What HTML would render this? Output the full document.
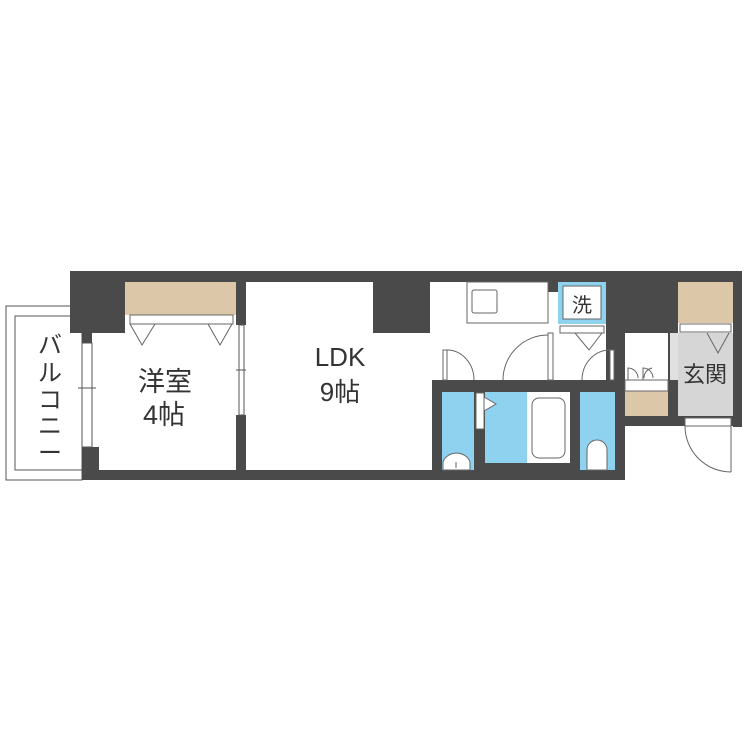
<!DOCTYPE html>
<html><head><meta charset="utf-8"><style>
html,body{margin:0;padding:0;background:#fff;}
svg{display:block}
text{font-family:"Liberation Sans","Noto Sans CJK JP",sans-serif;fill:#333;}
</style></head><body>
<svg width="750" height="750" viewBox="0 0 750 750" xmlns="http://www.w3.org/2000/svg">
<rect width="750" height="750" fill="#fff"/>
<rect x="6" y="306" width="76" height="174" fill="#fff" stroke="#555" stroke-width="1"/>
<rect x="15" y="316" width="67" height="154" fill="#fff" stroke="#555" stroke-width="1"/>
<g fill="#4a4a4a">
<rect x="70" y="271" width="672" height="11"/>
<rect x="70" y="271" width="55" height="62"/>
<rect x="82" y="333" width="10" height="10"/>
<rect x="82" y="447" width="17" height="33"/>
<rect x="82" y="470" width="543" height="10"/>
<rect x="236" y="271" width="10" height="54"/>
<rect x="236" y="415" width="10" height="65"/>
<rect x="373" y="271" width="57" height="62"/>
<rect x="548" y="282" width="10" height="10"/>
<rect x="606" y="282" width="72" height="51"/>
<rect x="733" y="271" width="9" height="156"/>
<rect x="625" y="416" width="117" height="10"/>
<rect x="432" y="380" width="10" height="100"/>
<rect x="432" y="380" width="193" height="12"/>
<rect x="474" y="392" width="11" height="78"/>
<rect x="570" y="392" width="10" height="78"/>
<rect x="485" y="463" width="85" height="7"/>
<rect x="615" y="380" width="10" height="100"/>
<rect x="668" y="333" width="10" height="93"/>
<rect x="606" y="333" width="19" height="47"/>
</g>
<rect x="82" y="343" width="10" height="104" fill="#fff" stroke="#555" stroke-width="1"/>
<line x1="78" y1="388" x2="96" y2="388" stroke="#555"/>
<rect x="239" y="325" width="5" height="90" fill="#fff" stroke="#555" stroke-width="1"/>
<line x1="236" y1="370" x2="246" y2="370" stroke="#555"/>
<rect x="125" y="282" width="111" height="33" fill="#dcc7a9"/>
<rect x="130" y="315" width="103" height="9" fill="#fff" stroke="#666" stroke-width="1"/>
<polyline points="130,324 142,345 155,324" fill="none" stroke="#666"/>
<polyline points="208,324 220,345 232,324" fill="none" stroke="#666"/>
<rect x="467" y="282" width="81" height="41" fill="#fff" stroke="#666"/>
<rect x="472" y="290" width="25" height="23" rx="2" fill="#fff" stroke="#666"/>
<rect x="558" y="282" width="48" height="42" fill="#8ed2ef"/>
<rect x="563" y="286" width="38" height="33" fill="#fff" stroke="#666"/>
<text x="582" y="312" font-size="20" text-anchor="middle">洗</text>
<rect x="560" y="326" width="44" height="7" fill="#fff" stroke="#666"/>
<polyline points="575,333 589,350 602,333" fill="none" stroke="#666"/>
<rect x="678" y="282" width="55" height="41" fill="#dcc7a9"/>
<rect x="680" y="324" width="51" height="8" fill="#fff" stroke="#666"/>
<rect x="678" y="333" width="55" height="83" fill="#d6d6d6"/>
<polyline points="707,333 718,353 729,333" fill="none" stroke="#666"/>
<rect x="670" y="333" width="8" height="47" fill="#e0e0e0"/>
<text x="705" y="382" font-size="22" text-anchor="middle">玄関</text>
<rect x="625" y="391" width="43" height="25" fill="#dcc7a9"/>
<rect x="625" y="380" width="43" height="11" fill="#fff" stroke="#666"/>
<path d="M628,380 L628,368 A10,10 0 0 1 638,378 M643,380 L643,368 A10,10 0 0 1 653,378 M652,368 A10,10 0 0 0 644,378" fill="none" stroke="#666"/>
<rect x="685" y="418" width="46" height="8" fill="#fff" stroke="#666"/>
<line x1="731" y1="426" x2="731" y2="472" stroke="#666"/>
<path d="M685,426 A46,46 0 0 0 731,472" fill="none" stroke="#666"/>
<rect x="442" y="392" width="32" height="78" fill="#8ed2ef"/>
<rect x="485" y="392" width="42" height="71" fill="#8ed2ef"/>
<rect x="580" y="392" width="35" height="78" fill="#8ed2ef"/>
<rect x="527" y="392" width="43" height="71" fill="#fff"/>
<rect x="532" y="398" width="33" height="60" rx="7" fill="#fff" stroke="#666"/>
<path d="M443,470 L443,462 A14,12 0 0 1 470,462 L470,470 Z" fill="#fff" stroke="#666"/>
<line x1="456" y1="462" x2="456" y2="468" stroke="#666"/>
<path d="M587,470 L587,450 A10,10 0 0 1 607,450 L607,470 Z" fill="#fff" stroke="#666"/>
<rect x="476" y="393" width="8" height="36" fill="#fff" stroke="#666"/>
<polygon points="484,397 496,404 484,411" fill="#fff" stroke="#666"/>
<g fill="none" stroke="#666">
<rect x="443" y="350" width="4" height="30" fill="#fff"/>
<path d="M447,350 A27,30 0 0 1 474,380"/>
<rect x="548" y="333" width="5" height="47" fill="#fff"/>
<path d="M548,335 A45,45 0 0 0 503,380"/>
<rect x="610" y="350" width="4" height="30" fill="#fff"/>
<path d="M610,350 A28,30 0 0 0 582,380"/>
</g>
<text x="165" y="391" font-size="27" text-anchor="middle">洋室</text>
<text x="164" y="424" font-size="27" text-anchor="middle">4帖</text>
<text x="340" y="366" font-size="26" text-anchor="middle">LDK</text>
<text x="340" y="401" font-size="26" text-anchor="middle">9帖</text>
<g font-size="24" text-anchor="middle">
<text x="50" y="353">バ</text>
<text x="50" y="381">ル</text>
<text x="50" y="408">コ</text>
<text x="50" y="434">ニ</text>
<text x="50" y="461">ー</text>
</g>
</svg>
</body></html>
